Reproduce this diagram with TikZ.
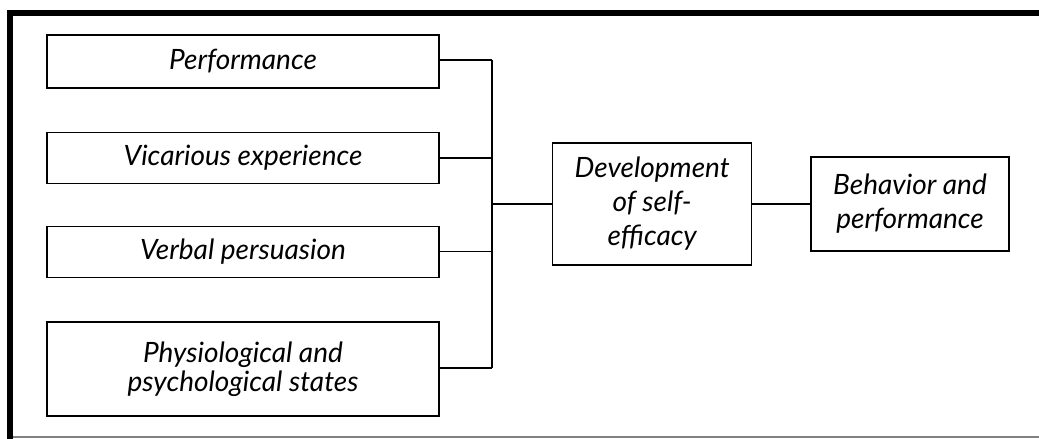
\documentclass[tikz,border=0pt]{standalone}
\usepackage{fontspec}
\setmainfont{Lato}
\tikzset{
  srcbox/.style={draw, line width=1.4pt, minimum width=392pt, align=center,
    font=\fontsize{28}{29}\selectfont\itshape, inner sep=0pt},
  effbox/.style={draw, line width=1.4pt, minimum width=199pt, align=center,
    font=\fontsize{28}{34}\selectfont\itshape, inner sep=0pt},
}
\begin{document}
\begin{tikzpicture}[x=1pt, y=-1pt]
      \useasboundingbox (0,0) rectangle (1039,439);
      \draw[line width=6pt] (10,439) -- (10,13) -- (1039,13);
      \draw[line width=1.2pt, gray] (13,437) -- (1039,437);
      \draw
        (243,61.5) node[srcbox, minimum height=53pt] (perf){Performance}
        (243,157.8) node[srcbox, minimum height=51pt] (vic){Vicarious experience}
        (243,251.7) node[srcbox, minimum height=51pt] (verb){Verbal persuasion}
        (243,368.8) node[srcbox, minimum height=94pt] (phys){Physiological and\\psychological states}
        (652.2,204) node[effbox, minimum height=122pt] (dev){Development\\of self-\\efficacy}
        (910,204) node[effbox, minimum width=198pt, minimum height=94pt] (beh){Behavior and\\performance};
      \coordinate (bustop) at (492,60);
      \coordinate (busbot) at (492,368);
      \begin{scope}[line width=1.4pt]
        \draw (bustop) -- (busbot);
        \draw (perf.east |- bustop) to (bustop);
        \draw (vic) to (vic -| bustop);
        \draw (verb) to (verb -| bustop);
        \draw (phys.east |- busbot) to (busbot);
        \draw (dev.west -| bustop) to (dev.west);
        \draw (dev.east) to (beh.west);
      \end{scope}
    \end{tikzpicture}
\end{document}
